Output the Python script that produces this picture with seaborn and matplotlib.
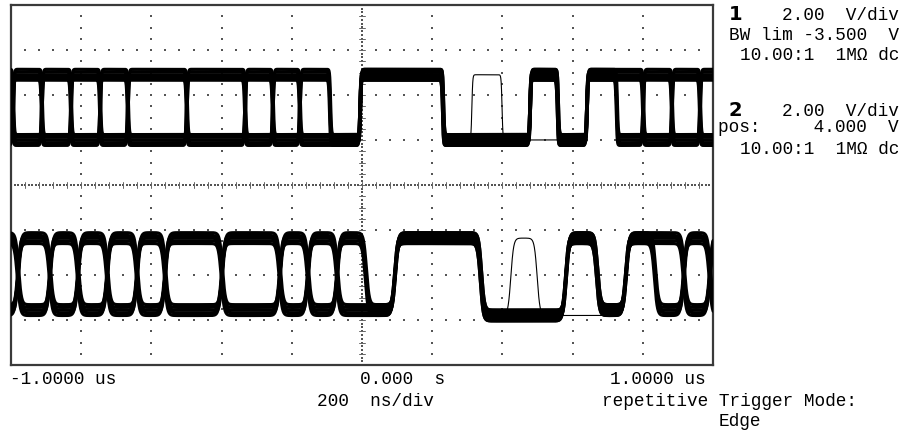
import numpy as np
import pandas as pd
import matplotlib
matplotlib.use("Agg")
import matplotlib.pyplot as plt
import seaborn as sns

# ---------------- data (time in ns, 200 ns/div; vertical in screen divisions) ----
CH1_LEVEL = {"H": 2.45, "L": 1.00}
CH2_LEVEL = {"H": -1.18, "L": -2.78, "l": -2.90}

ch1_a_edges = [-994, -912, -829, -746, -667, -499, -333, -254, -177, -5,
               231, 479, 558, 641, 726, 801, 883, 963]
ch1_a_states = list("HLHLHLHLHLHLHLHLHLH")
ch1_b_edges = [-994, -912, -829, -746, -667, -499, -333, -254, -177, -91,
               -5, 231, 479, 558, 641, 801, 883, 963]
ch1_b_states = list("LHLHLHLHLHLHLHLHLHL")
ch1_ghost_edges = [-5, 231, 313, 399, 641]
ch1_ghost_states = list("LHLHLH")
ch1_ghost_span = [200, 660]

ch2_a_edges = [-980, -889, -809, -726, -641, -561, -399, -234, -154, -71,
               11, 94, 339, 581, 670, 752, 835, 917, 991]
ch2_a_states = list("HLHLHLHLHLHLHlHLHLHL")
ch2_b_edges = [-980, -889, -809, -726, -641, -561, -399, -234, -154, -71,
               94, 339, 581, 670, 752, 917, 991]
ch2_b_states = list("LHLHLHLHLHLHlHLHLH")
ch2_ghost_edges = [339, 424, 499, 752]
ch2_ghost_states = list("HlHlH")
ch2_ghost_span = [300, 790]

right_panel = [
    ("2.00  V/div", 15),
    ("BW lim -3.500  V", 36),
    ("10.00:1  1M\u03a9 dc", 56),
    ("2.00  V/div", 111),
    ("pos:     4.000  V", 128),
    ("10.00:1  1M\u03a9 dc", 150),
]
channel_ids = [("1", 14), ("2", 110)]
bottom_labels = [
    ("-1.0000 us", 10, 380, "left"),
    ("0.000  s", 402, 380, "center"),
    ("1.0000 us", 658, 380, "center"),
    ("200  ns/div", 375, 401, "center"),
    ("repetitive Trigger Mode:", 730, 401, "center"),
    ("Edge", 740, 421, "center"),
]

# ---------------- rendering ----------------
W, H = 910, 437
sns.set_style("white")
plt.rcParams["font.family"] = ["Liberation Mono", "DejaVu Sans Mono"]

fig = plt.figure(figsize=(W / 100, H / 100), dpi=100)
fig.patch.set_facecolor("white")
ax = fig.add_axes([11 / W, (H - 365) / H, 702 / W, 360 / H])
ax.set_xlim(-1000, 1000)
ax.set_ylim(-4, 4)
ax.set_xticks([])
ax.set_yticks([])
for s in ax.spines.values():
    s.set_color("#3a3a3a")
    s.set_linewidth(1.6)

dot_kw = dict(s=1.6, marker="s", color="#555555", linewidths=0, zorder=1)
# minor grid dots
for gx in [-800, -600, -400, -200, 200, 400, 600, 800]:
    yy = np.arange(-3.75, 3.76, 0.25)
    ax.scatter(np.full_like(yy, gx), yy, **dot_kw)
for gy in [-3, -2, -1, 1, 2, 3]:
    xx = np.arange(-960, 961, 40)
    ax.scatter(xx, np.full_like(xx, gy, dtype=float), **dot_kw)
# centre axes with dense dots and ticks
xx = np.arange(-1000, 1001, 10)
ax.scatter(xx, np.zeros_like(xx, dtype=float), **dot_kw)
yy = np.arange(-4, 4.001, 1 / 12)
ax.scatter(np.zeros_like(yy), yy, **dot_kw)
for tx in np.arange(-960, 961, 40):
    ax.plot([tx, tx], [-0.07, 0.07], color="#666666", lw=0.7, zorder=1)
for ty in np.arange(-3.75, 3.76, 0.25):
    ax.plot([-9, 9], [ty, ty], color="#666666", lw=0.7, zorder=1)

t = np.arange(-1010, 1010.5, 0.5)


def wave(tt, edges, states, lev, w):
    vals = [lev[s] for s in states]
    y = np.full_like(tt, vals[0], dtype=float)
    for e, a, b in zip(edges, vals[:-1], vals[1:]):
        y += (b - a) * 0.5 * (1 + np.tanh((tt - e) / w))
    return y


acq_dy = [-0.12, -0.06, 0.0, 0.06, 0.12]
acq_dt = [-1.5, 0.75, 0.0, -0.75, 1.5]


def draw_thick(edges, states, lev, w, lw):
    frames = []
    for k, (dy, dt) in enumerate(zip(acq_dy, acq_dt)):
        y = wave(t - dt, edges, states, lev, w) + dy
        frames.append(pd.DataFrame({"t": t, "v": y, "acq": k}))
    df = pd.concat(frames, ignore_index=True)
    sns.lineplot(data=df, x="t", y="v", units="acq", estimator=None, sort=False,
                 color="black", lw=lw, ax=ax, legend=False, zorder=3)


def draw_thin(edges, states, lev, w, span):
    m = (t >= span[0]) & (t <= span[1])
    df = pd.DataFrame({"t": t[m], "v": wave(t[m], edges, states, lev, w)})
    sns.lineplot(data=df, x="t", y="v", estimator=None, sort=False,
                 color="black", lw=0.8, ax=ax, legend=False, zorder=3)


draw_thick(ch1_a_edges, ch1_a_states, CH1_LEVEL, 2.5, 2.3)
draw_thick(ch1_b_edges, ch1_b_states, CH1_LEVEL, 2.5, 2.3)
draw_thin(ch1_ghost_edges, ch1_ghost_states, CH1_LEVEL, 2.5, ch1_ghost_span)
draw_thick(ch2_a_edges, ch2_a_states, CH2_LEVEL, 8.0, 2.3)
draw_thick(ch2_b_edges, ch2_b_states, CH2_LEVEL, 8.0, 2.3)
draw_thin(ch2_ghost_edges, ch2_ghost_states, CH2_LEVEL, 8.0, ch2_ghost_span)

ax.set_xlabel("")
ax.set_ylabel("")
ax.set_xlim(-1000, 1000)
ax.set_ylim(-4, 4)

# ---------------- texts ----------------
for txt, y in right_panel:
    fig.text(899 / W, 1 - y / H, txt, ha="right", va="center", fontsize=12.8,
             color="black")
for txt, y in channel_ids:
    fig.text(729 / W, 1 - y / H, txt, ha="left", va="center", fontsize=14,
             fontweight="bold", family=["DejaVu Sans"], color="black")
for txt, x, y, ha in bottom_labels:
    fig.text(x / W, 1 - y / H, txt, ha=ha, va="center", fontsize=12.8,
             color="black")

fig.savefig("out.png", dpi=100, facecolor="white")
